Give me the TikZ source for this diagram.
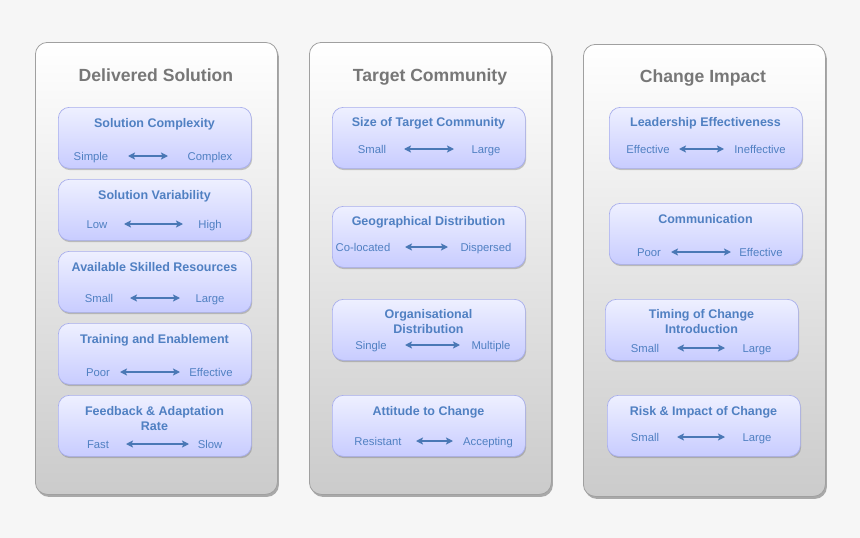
\documentclass[tikz,border=0pt]{standalone}
\usepackage{fontspec}
\setmainfont{Liberation Sans}
\usetikzlibrary{shadows,arrows.meta}
\definecolor{bgcol}{HTML}{F6F6F6}
\definecolor{txtblue}{HTML}{5080C2}
\definecolor{arrowblue}{HTML}{4A78B5}
\definecolor{titlegray}{HTML}{777777}
\definecolor{panelbot}{HTML}{CBCBCB}
\definecolor{panelborder}{HTML}{A0A0A0}
\definecolor{boxtop}{HTML}{EEF0FF}
\definecolor{boxbot}{HTML}{C8CCFF}
\definecolor{boxborder}{HTML}{A8AEEC}
\begin{document}
\begin{tikzpicture}[x=1pt,y=-1pt,
  panel/.style={draw=panelborder, line width=0.8pt, rounded corners=12pt, top color=white, bottom color=panelbot,
    minimum width=242pt, minimum height=452pt, inner sep=0pt, anchor=north west,
    drop shadow={shadow xshift=1.5pt, shadow yshift=-2.5pt, opacity=0.45, fill=black!70}},
  box/.style={draw=boxborder, line width=0.7pt, rounded corners=11pt, top color=boxtop, bottom color=boxbot,
    minimum width=193pt, minimum height=61pt, inner sep=0pt, anchor=north west,
    drop shadow={shadow xshift=0.8pt, shadow yshift=-1.8pt, opacity=0.35, fill=black!60}},
  ptitle/.style={font=\bfseries\fontsize{17.6}{20}\selectfont, text=titlegray, text height=12.6pt, text depth=0pt, inner sep=0pt},
  btitle/.style={font=\bfseries\fontsize{12.5}{15}\selectfont, text=txtblue, align=center, inner sep=0pt},
  lbl/.style={font=\fontsize{11.3}{13}\selectfont, text=txtblue, inner sep=0pt, text height=8.1pt, text depth=0pt},
  arr/.style={draw=arrowblue, line width=1.3pt, {Stealth[length=7pt,width=7pt,inset=1.5pt]}-{Stealth[length=7pt,width=7pt,inset=1.5pt]}}
]
\fill[bgcol] (0,0) rectangle (860,538);
\useasboundingbox (0,0) rectangle (860,538);

% panels
\node[panel] (p1) at (35,42) {};
\node[panel] (p2) at (309,42) {};
\node[panel] (p3) at (583,44) {};
\node[ptitle] (t1) at (156,75) {Delivered Solution};
\node[ptitle] (t2) at (430,75) {Target Community};
\node[ptitle] (t3) at (703,76) {Change Impact};

% ---------- Panel 1 ----------
\node[box] (b11) at (58,107) {};
\node[btitle] (b11t) at (154.5,124) {Solution Complexity};
\node[lbl] (b11l) at (91,156) {Simple};
\node[lbl] (b11r) at (210,156) {Complex};
\coordinate (a11l) at (128,156); \coordinate (a11r) at (168,156);
\draw[arr] (a11l) -- (a11r);

\node[box] (b12) at (58,179) {};
\node[btitle] (b12t) at (154.5,196) {Solution Variability};
\node[lbl] (b12l) at (97,224) {Low};
\node[lbl] (b12r) at (210,224) {High};
\coordinate (a12l) at (124,224); \coordinate (a12r) at (183,224);
\draw[arr] (a12l) -- (a12r);

\node[box] (b13) at (58,251) {};
\node[btitle] (b13t) at (154.5,267) {Available Skilled Resources};
\node[lbl] (b13l) at (99,298) {Small};
\node[lbl] (b13r) at (210,298) {Large};
\coordinate (a13l) at (130,298); \coordinate (a13r) at (180,298);
\draw[arr] (a13l) -- (a13r);

\node[box] (b14) at (58,323) {};
\node[btitle] (b14t) at (154.5,340) {Training and Enablement};
\node[lbl] (b14l) at (98,372) {Poor};
\node[lbl] (b14r) at (211,372) {Effective};
\coordinate (a14l) at (120,372); \coordinate (a14r) at (180,372);
\draw[arr] (a14l) -- (a14r);

\node[box] (b15) at (58,395) {};
\node[btitle] (b15t) at (154.5,419) {Feedback \& Adaptation\\Rate};
\node[lbl] (b15l) at (98,444) {Fast};
\node[lbl] (b15r) at (210,444) {Slow};
\coordinate (a15l) at (126,444); \coordinate (a15r) at (189,444);
\draw[arr] (a15l) -- (a15r);

% ---------- Panel 2 ----------
\node[box] (b21) at (332,107) {};
\node[btitle] (b21t) at (428.5,123) {Size of Target Community};
\node[lbl] (b21l) at (372,149) {Small};
\node[lbl] (b21r) at (486,149) {Large};
\coordinate (a21l) at (404,149); \coordinate (a21r) at (454,149);
\draw[arr] (a21l) -- (a21r);

\node[box] (b22) at (332,206) {};
\node[btitle] (b22t) at (428.5,222) {Geographical Distribution};
\node[lbl] (b22l) at (363,247) {Co-located};
\node[lbl] (b22r) at (486,247) {Dispersed};
\coordinate (a22l) at (405,247); \coordinate (a22r) at (448,247);
\draw[arr] (a22l) -- (a22r);

\node[box] (b23) at (332,299) {};
\node[btitle] (b23t) at (428.5,322) {Organisational\\Distribution};
\node[lbl] (b23l) at (371,345) {Single};
\node[lbl] (b23r) at (491,345) {Multiple};
\coordinate (a23l) at (405,345); \coordinate (a23r) at (460,345);
\draw[arr] (a23l) -- (a23r);

\node[box] (b24) at (332,395) {};
\node[btitle] (b24t) at (428.5,412) {Attitude to Change};
\node[lbl] (b24l) at (378,441) {Resistant};
\node[lbl] (b24r) at (488,441) {Accepting};
\coordinate (a24l) at (416,441); \coordinate (a24r) at (453,441);
\draw[arr] (a24l) -- (a24r);

% ---------- Panel 3 ----------
\node[box] (b31) at (609,107) {};
\node[btitle] (b31t) at (705.5,123) {Leadership Effectiveness};
\node[lbl] (b31l) at (648,149) {Effective};
\node[lbl] (b31r) at (760,149) {Ineffective};
\coordinate (a31l) at (679,149); \coordinate (a31r) at (724,149);
\draw[arr] (a31l) -- (a31r);

\node[box] (b32) at (609,203) {};
\node[btitle] (b32t) at (705.5,219) {Communication};
\node[lbl] (b32l) at (649,252) {Poor};
\node[lbl] (b32r) at (761,252) {Effective};
\coordinate (a32l) at (671,252); \coordinate (a32r) at (731,252);
\draw[arr] (a32l) -- (a32r);

\node[box] (b33) at (605,299) {};
\node[btitle] (b33t) at (701.5,322) {Timing of Change\\Introduction};
\node[lbl] (b33l) at (645,348) {Small};
\node[lbl] (b33r) at (757,348) {Large};
\coordinate (a33l) at (677,348); \coordinate (a33r) at (725,348);
\draw[arr] (a33l) -- (a33r);

\node[box] (b34) at (607,395) {};
\node[btitle] (b34t) at (703.5,412) {Risk \& Impact of Change};
\node[lbl] (b34l) at (645,437) {Small};
\node[lbl] (b34r) at (757,437) {Large};
\coordinate (a34l) at (677,437); \coordinate (a34r) at (725,437);
\draw[arr] (a34l) -- (a34r);
\end{tikzpicture}
\end{document}
